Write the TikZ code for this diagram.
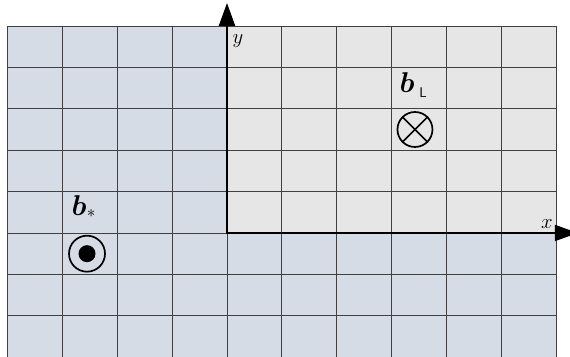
\documentclass[tikz,border=0pt]{standalone}
\usepackage{amsmath}
\usepackage{tikz}
\usetikzlibrary{arrows.meta}
\definecolor{quadgray}{HTML}{E7E6E6}
\definecolor{quadblue}{HTML}{D6DCE5}
\newcommand{\bigvec}{\scalebox{1.15}{\Huge$\boldsymbol{b}$}}
\newcommand{\smallsub}{\fontsize{14}{15}\selectfont}

\begin{document}
\begin{tikzpicture}[x=54.9pt, y=41.4pt,
    gridline/.style={draw=black!75, line width=0.8pt},
    axis/.style={-{Triangle[length=23pt, width=16pt]}, line width=2.2pt, line cap=rect},
    field/.style={circle, draw, line width=1.7pt, minimum size=35pt, inner sep=0pt},
    dotmark/.style={circle, fill, minimum size=17pt, inner sep=0pt},
    vlabel/.style={anchor=base west, inner sep=0pt},
    axlabel/.style={anchor=base west, inner sep=0pt, font=\fontsize{21}{24}\selectfont},
]
    % Frame of the picture
    \clip (-4.135,-2.995) rectangle (6.248,5.628);

    % Shaded half-planes and grid
    \fill[quadblue] (-4,-3) rectangle (6,5);
    \fill[quadgray] (0,0) rectangle (6,5);
    \draw[gridline, step=1] (-4,-3) grid (6,5);

    % Axes
    \coordinate (origin) at (0,0);
    \coordinate (xtip) at (6.39,0);
    \coordinate (ytip) at (0,5.556);
    \draw[axis] (origin) -- (xtip);
    \draw[axis] (origin) -- (ytip);
    \node[axlabel] (ylab) at (0.10,4.58) {$y$};
    \node[axlabel] (xlab) at (5.72,0.12) {$x$};

    % Field into the page
    \node[field] (fieldL) at (3.424,2.5) {};
    \draw[line width=1.7pt] (fieldL.north west) -- (fieldL.south east);
    \draw[line width=1.7pt] (fieldL.north east) -- (fieldL.south west);

    % Field out of the page
    \node[field, minimum size=36pt] (fieldS) at (-2.55,-0.5) {};
    \node[dotmark] (dotS) at (fieldS) {};

    % Labels
    \node[vlabel] (labL) at (3.14,3.40)
        {\bigvec\hspace{5pt}\raisebox{-5pt}{\smallsub\sffamily L}};
    \node[vlabel] (labS) at (-2.835,0.43)
        {\bigvec\hspace{0.5pt}\raisebox{-2.5pt}{\fontsize{16}{16}\selectfont$\ast$}};
\end{tikzpicture}
\end{document}
